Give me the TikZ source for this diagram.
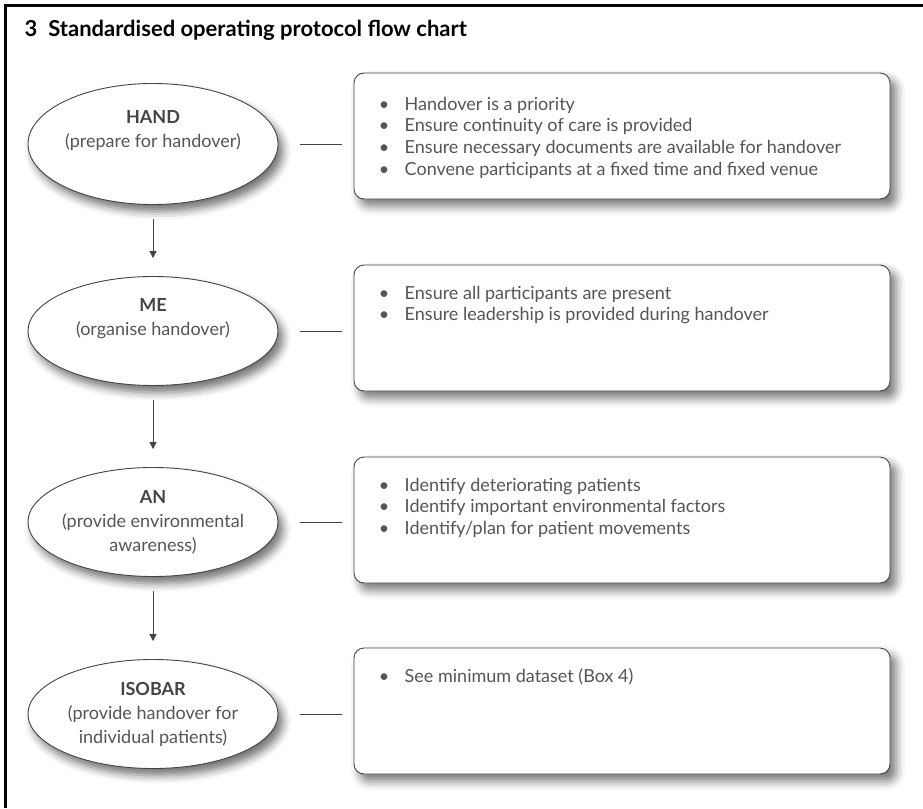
\documentclass[tikz,border=0pt]{standalone}
\usepackage{fontspec}
\setmainfont{Lato}
\usetikzlibrary{shapes.geometric,arrows.meta,shadows.blur}
\definecolor{edgegrey}{HTML}{444444}
\definecolor{textgrey}{HTML}{555555}
\newcommand{\itm}{\makebox[26pt][l]{\textbullet}}

\begin{document}
\begin{tikzpicture}[x=1pt,y=-1pt,
    stage/.style={draw=edgegrey,line width=.9pt,fill=white,ellipse,inner sep=0pt,
      minimum width=250pt,minimum height=109pt,
      blur shadow={shadow xshift=5pt,shadow yshift=-7pt,shadow blur radius=8pt,shadow opacity=55}},
    stagetxt/.style={align=center,text=textgrey,inner sep=0pt,font=\fontsize{18}{24}\selectfont},
    infobox/.style={draw=edgegrey,line width=.9pt,fill=white,rounded corners=10pt,inner sep=0pt,
      minimum width=536pt,minimum height=126pt,
      blur shadow={shadow xshift=6pt,shadow yshift=-7pt,shadow blur radius=9pt,shadow opacity=55}},
    infotxt/.style={align=left,anchor=north west,text=textgrey,inner sep=0pt,font=\fontsize{18}{21.8}\selectfont},
    flow/.style={draw=edgegrey,line width=1pt,-{Triangle[length=7pt,width=7pt]},shorten <=14pt,shorten >=18pt},
    link/.style={draw=edgegrey,line width=1pt,shorten <=22pt,shorten >=12pt}]
  \useasboundingbox (0,0) rectangle (923,808);
  \draw[line width=2.5pt] (5.5,808) -- (5.5,5.5) -- (923,5.5);
  \node (title) at (21,37) [anchor=base west,font=\bfseries\fontsize{22}{26}\selectfont] {3\enspace Standardised operating protocol flow chart};

  % stages
  \node (hand) at (153,144) [stage,minimum height=121pt] {};
  \node (handtxt) at (153,131) [stagetxt] {{\bfseries\color{edgegrey}HAND}\\(prepare for handover)};

  \node (me) at (153,331) [stage] {};
  \node (metxt) at (153,319) [stagetxt] {{\bfseries\color{edgegrey}ME}\\(organise handover)};

  \node (an) at (153,522) [stage] {};
  \node (antxt) at (153,522) [stagetxt] {{\bfseries\color{edgegrey}AN}\\(provide environmental\\awareness)};

  \node (isobar) at (153,714) [stage] {};
  \node (isobartxt) at (153,714) [stagetxt] {{\bfseries\color{edgegrey}ISOBAR}\\(provide handover for\\individual patients)};

  % boxes
  \node (handbox) at (622,136) [infobox] {};
  \node (handlist) at ([xshift=25pt,yshift=-24pt]handbox.north west) [infotxt]
    {\itm Handover is a priority\\ \itm Ensure continuity of care is provided\\
     \itm Ensure necessary documents are available for handover\\
     \itm Convene participants at a fixed time and fixed venue};

  \node (mebox) at (622,328) [infobox] {};
  \node (melist) at ([xshift=25pt,yshift=-21pt]mebox.north west) [infotxt]
    {\itm Ensure all participants are present\\ \itm Ensure leadership is provided during handover};

  \node (anbox) at (622,520) [infobox] {};
  \node (anlist) at ([xshift=25pt,yshift=-21pt]anbox.north west) [infotxt]
    {\itm Identify deteriorating patients\\ \itm Identify important environmental factors\\
     \itm Identify/plan for patient movements};

  \node (isobarbox) at (622,711) [infobox] {};
  \node (isobarlist) at ([xshift=25pt,yshift=-21pt]isobarbox.north west) [infotxt]
    {\itm See minimum dataset (Box 4)};

  \draw[flow] (hand) -- (me);
  \draw[flow] (me) -- (an);
  \draw[flow] (an) -- (isobar);

  \draw[link] (hand.east) -- (hand.east -| handbox.west);
  \draw[link] (me.east) -- (me.east -| mebox.west);
  \draw[link] (an.east) -- (an.east -| anbox.west);
  \draw[link] (isobar.east) -- (isobar.east -| isobarbox.west);
\end{tikzpicture}
\end{document}
